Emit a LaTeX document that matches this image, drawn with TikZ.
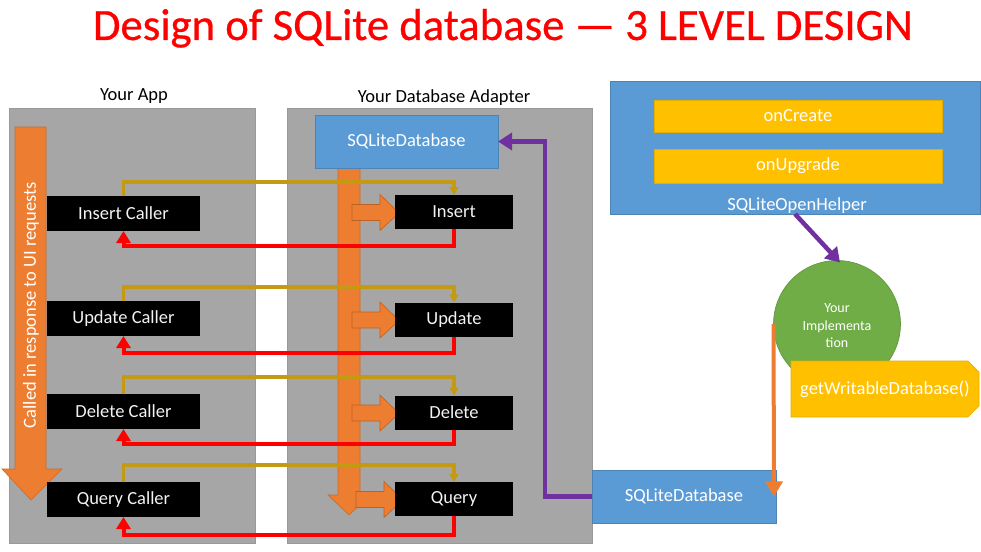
\documentclass[tikz,border=0pt]{standalone}
\usepackage{fontspec}
\setmainfont{Carlito}
\newfontfamily\titlefont[FakeBold=0.6]{Carlito}
\usetikzlibrary{shapes.misc,arrows.meta,calc}
\definecolor{panelgray}{HTML}{A6A6A6}
\definecolor{orfill}{HTML}{ED7D31}
\definecolor{ordark}{HTML}{C0621F}
\definecolor{bluebox}{HTML}{5B9BD5}
\definecolor{goldbox}{HTML}{FFC000}
\definecolor{goldline}{HTML}{C49A12}
\definecolor{redline}{HTML}{FF0000}
\definecolor{purp}{HTML}{7030A0}
\definecolor{greenc}{HTML}{70AD47}
\definecolor{boxtext}{HTML}{F2F2F2}
\begin{document}
\begin{tikzpicture}[x=1pt,y=-1pt,
  every node/.style={inner sep=0pt, outer sep=0pt},
  basefont/.style={font=\fontsize{18.5}{21}\selectfont},
  panel/.style={fill=panelgray, draw=gray!80},
  callerbox/.style={basefont, fill=black, text=boxtext, minimum width=153pt, minimum height=35pt},
  opbox/.style={basefont, fill=black, text=boxtext, minimum width=118pt, minimum height=34pt},
  bluenode/.style={basefont, fill=bluebox, draw=bluebox!85!black, line width=0.6pt, text=white},
  goldnode/.style={basefont, fill=goldbox, draw=goldbox!90!black, line width=0.6pt, text=white},
  goldconn/.style={draw=goldline, line width=3.5pt, -{Triangle[width=9pt,length=8pt]}},
  redconn/.style={draw=redline, line width=4pt, -{Triangle[width=14pt,length=12pt]}},
  purpconn/.style={draw=purp, line width=4.5pt, -{Triangle[width=17pt,length=14pt]}},
  orconn/.style={draw=orfill, line width=4pt, -{Triangle[width=17pt,length=15pt]}},
  blockarrow/.style={fill=orfill, draw=ordark, line width=0.6pt},
  bigarrow/.style={fill=orfill, draw=ordark!70!orfill, line width=0.6pt}
]
\useasboundingbox (0,0) rectangle (981,551);

% title
\node[anchor=base, text=redline] (title) at (503,40)
  {\resizebox{820pt}{!}{\titlefont\fontsize{40}{44}\selectfont Design of SQLite database — 3 LEVEL DESIGN}};

% panels
\node[panel, minimum width=246pt, minimum height=435pt] (apppanel) at (132,325.5) {};
\node[panel, minimum width=305pt, minimum height=435pt] (adpanel) at (439.5,325.5) {};
\node[basefont, anchor=base] (applabel) at (134,100) {Your App};
\node[basefont, anchor=base] (adlabel) at (444,102) {Your Database Adapter};

% left big orange arrow
\draw[bigarrow] (15,127) -- (46,127) -- (46,469) -- (62,469) -- (31,500) -- (2,469) -- (15,469) -- cycle;
\node[basefont, rotate=90, text=white] (uilabel) at (31,305) {Called in response to UI requests};

% middle orange bar
\draw[bigarrow] (338,168) -- (360,168) -- (360,495) -- (370,495) -- (349,515) -- (328,495) -- (338,495) -- cycle;

% top SQLiteDatabase
\node[bluenode, minimum width=183pt, minimum height=53pt] (sqlt) at (406.5,141.5) {SQLiteDatabase};

% coordinates for boxes
\coordinate (icp) at (123.5,213.5);
\coordinate (ucp) at (123.5,318.5);
\coordinate (dcp) at (123.5,411.5);
\coordinate (qcp) at (123.5,499.5);
\coordinate (insp) at (454,212);
\coordinate (updp) at (454,319.5);
\coordinate (delp) at (454,412.5);
\coordinate (qryp) at (454,499);

% block arrows (drawn before boxes)
\foreach \p/\dx in {insp/0, updp/0, delp/0, qryp/4}{
  \draw[blockarrow] ($(\p)+(-102+\dx,-7.5)$) -- ($(\p)+(-74+\dx,-7.5)$) -- ($(\p)+(-74+\dx,-17.5)$)
    -- ($(\p)+(-55+\dx,1)$) -- ($(\p)+(-74+\dx,18.5)$) -- ($(\p)+(-74+\dx,8.5)$)
    -- ($(\p)+(-102+\dx,8.5)$) -- cycle;
}

% boxes
\node[callerbox] (ic) at (icp) {Insert Caller};
\node[callerbox] (uc) at (ucp) {Update Caller};
\node[callerbox] (dc) at (dcp) {Delete Caller};
\node[callerbox] (qc) at (qcp) {Query Caller};
\node[opbox] (ins) at (insp) {Insert};
\node[opbox] (upd) at (updp) {Update};
\node[opbox] (del) at (delp) {Delete};
\node[opbox] (qry) at (qryp) {Query};

% gold connectors caller -> op
\draw[goldconn] (ic.north) -- ++(0,-14) -| (ins.north);
\draw[goldconn] (uc.north) -- ++(0,-14) -| (upd.north);
\draw[goldconn] (dc.north) -- ++(0,-17) -| (del.north);
\draw[goldconn] (qc.north) -- ++(0,-17) -| (qry.north);

% red connectors op -> caller
\draw[redconn] (ins.south) -- ++(0,17) -| (ic.south);
\draw[redconn] (upd.south) -- ++(0,16) -| (uc.south);
\draw[redconn] (del.south) -- ++(0,14) -| (dc.south);
\draw[redconn] (qry.south) -- ++(0,19) -| (qc.south);

% SQLiteOpenHelper
\node[bluenode, minimum width=370pt, minimum height=133pt] (helper) at (795,147.5) {};
\node[goldnode, minimum width=288pt, minimum height=32pt] (oncreate) at (798,116) {onCreate};
\node[goldnode, minimum width=288pt, minimum height=34pt] (onupgrade) at (798,166) {onUpgrade};
\node[basefont, text=white, anchor=base] (helperlabel) at (797,210) {SQLiteOpenHelper};

% implementation circle
\node[circle, fill=greenc, draw=greenc!85!black, line width=0.6pt, minimum size=127pt] (impl) at (837,324) {};
\node[text=white, align=center, font=\fontsize{14}{17.5}\selectfont] (impltext) at (837,326) {Your\\Implementa\\tion};

\node[goldnode, chamfered rectangle, chamfered rectangle corners={north east,south east},
      chamfered rectangle xsep=5pt, chamfered rectangle ysep=6pt,
      minimum width=188pt, minimum height=56pt] (gwd) at (885,389) {getWritableDatabase()};

% bottom SQLiteDatabase
\node[bluenode, minimum width=184pt, minimum height=53pt] (sqlb) at (684,496.5) {SQLiteDatabase};

% purple arrows
\draw[purpconn] (helper.south) -- ($(impl.north)+(3,2)$);
\draw[purpconn] (sqlb.west) -| ($(sqlt.east)+(47,0)$) -- (sqlt.east);

% orange line from implementation to bottom db
\draw[orconn] (impl.west) -- ($(sqlb.east)+(-2,0)$);
\end{tikzpicture}
\end{document}
